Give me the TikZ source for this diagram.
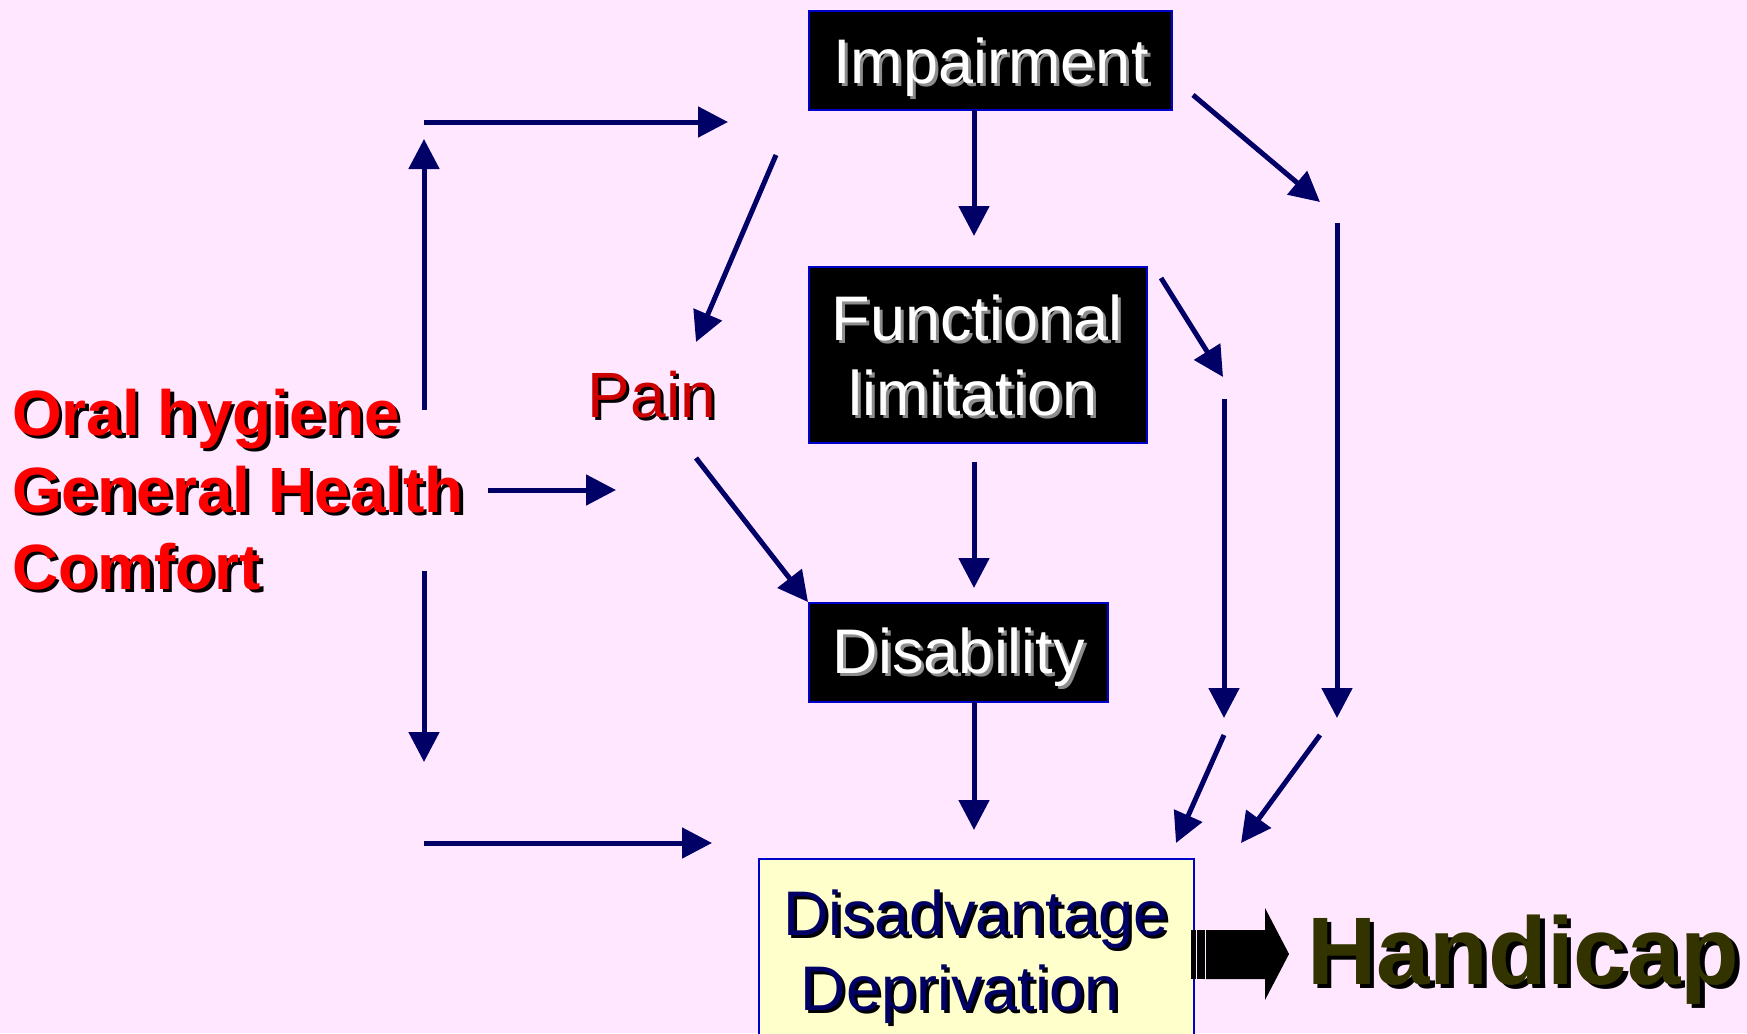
\documentclass[tikz,border=0pt]{standalone}
\usepackage{fontspec}
\setmainfont{Liberation Sans}
\usetikzlibrary{arrows.meta}
\definecolor{bg}{HTML}{FFE8FF}
\definecolor{navy}{HTML}{000066}
\definecolor{bord}{HTML}{0000CC}
\definecolor{painred}{HTML}{CC0000}
\definecolor{olive}{HTML}{333300}
\definecolor{shgray}{HTML}{8C8C8C}
\definecolor{pale}{HTML}{FFFFCC}
\newcommand\shd[3]{\leavevmode\rlap{\kern#1\raisebox{-#1}{\color{#2}#3}}#3}
\begin{document}
\begin{tikzpicture}[x=1pt,y=-1pt,
  arr/.style={draw=navy, line width=5pt, -{Triangle[length=30pt,width=30pt]}},
  blackbox/.style={draw=bord, line width=2.5pt, fill=black, inner sep=0pt},
  boxtext/.style={anchor=base, inner sep=0pt, text=white, font=\fontsize{63}{75}\selectfont},
  redtext/.style={anchor=base west, inner sep=0pt, text=red, font=\fontsize{64}{77}\selectfont\bfseries},
  navytext/.style={anchor=base, inner sep=0pt, text=navy, font=\fontsize{63}{75}\selectfont}]
\useasboundingbox (0,0) rectangle (1747,1033);
\clip (0,0) rectangle (1747,1033);
\fill[bg] (0,0) rectangle (1747,1033);

% boxes
\node[blackbox, minimum width=363pt, minimum height=99pt] (imp) at (990.5,60.5) {};
\node[blackbox, minimum width=338pt, minimum height=176pt] (func) at (978,355) {};
\node[blackbox, minimum width=299pt, minimum height=99pt] (dis) at (958.5,652.5) {};
\node[draw=bord, line width=2.5pt, fill=pale, inner sep=0pt, minimum width=435pt, minimum height=190pt] (dadv) at (976.5,954) {};

% box texts
\node[boxtext] (impt) at (991,83) {\shd{3pt}{shgray}{Impairment}};
\node[boxtext] (funct1) at (977,340) {\shd{3pt}{shgray}{Functional}};
\node[boxtext] (funct2) at (973,415) {\shd{3pt}{shgray}{limitation}};
\node[boxtext] (dist) at (959,673) {\shd{3pt}{shgray}{Disability}};
\node[navytext] (dadvt1) at (976,935) {\shd{3pt}{black}{Disadvantage}};
\node[navytext] (dadvt2) at (960,1010) {\shd{3pt}{black}{Deprivation}};

% left texts
\node[redtext] (oral) at (12,435) {\shd{3.5pt}{black}{Oral hygiene}};
\node[redtext] (gen) at (12,512) {\shd{3.5pt}{black}{General Health}};
\node[redtext] (comf) at (12,589) {\shd{3.5pt}{black}{Comfort}};

% pain
\node[anchor=base, inner sep=0pt, text=painred, font=\fontsize{64}{75}\selectfont] (pain) at (652,417) {\shd{3pt}{black}{Pain}};

% handicap
\node[anchor=base west, inner sep=0pt, text=olive, font=\fontsize{96}{96}\selectfont\bfseries] (hand) at (1307,984) {\shd{4.5pt}{black}{Handicap}};

% coordinates for free connector ends
\coordinate (a1s) at (424,410);  \coordinate (a1e) at (424,139);
\coordinate (a2s) at (424,122);  \coordinate (a2e) at (728,122);
\coordinate (a3s) at (776,155);  \coordinate (a3e) at (696,342);
\coordinate (a4s) at (974,110);  \coordinate (a4e) at (974,236);
\coordinate (a5s) at (1193,95);  \coordinate (a5e) at (1320,202);
\coordinate (a6s) at (1337,223); \coordinate (a6e) at (1337,718);
\coordinate (a7s) at (1161,278); \coordinate (a7e) at (1223,377);
\coordinate (a8s) at (1224,399); \coordinate (a8e) at (1224,718);
\coordinate (a9s) at (974,462);  \coordinate (a9e) at (974,588);
\coordinate (a10s) at (696,458); \coordinate (a10e) at (808,602);
\coordinate (a11s) at (488,490); \coordinate (a11e) at (616,490);
\coordinate (a12s) at (424,571); \coordinate (a12e) at (424,762);
\coordinate (a13s) at (424,843); \coordinate (a13e) at (712,843);
\coordinate (a14s) at (974,702); \coordinate (a14e) at (974,830);
\coordinate (a15s) at (1224,735); \coordinate (a15e) at (1176,843);
\coordinate (a16s) at (1320,735); \coordinate (a16e) at (1241,843);

\foreach \i in {1,...,16} {\draw[arr] (a\i s) -- (a\i e);}

% striped block arrow
\fill[black] (1191,930) rectangle (1196,979);
\fill[black] (1197,930) rectangle (1205,979);
\fill[black] (1206,930) -- (1265,930) -- (1265,908) -- (1289,954) -- (1265,1000) -- (1265,979) -- (1206,979) -- cycle;
\end{tikzpicture}
\end{document}
